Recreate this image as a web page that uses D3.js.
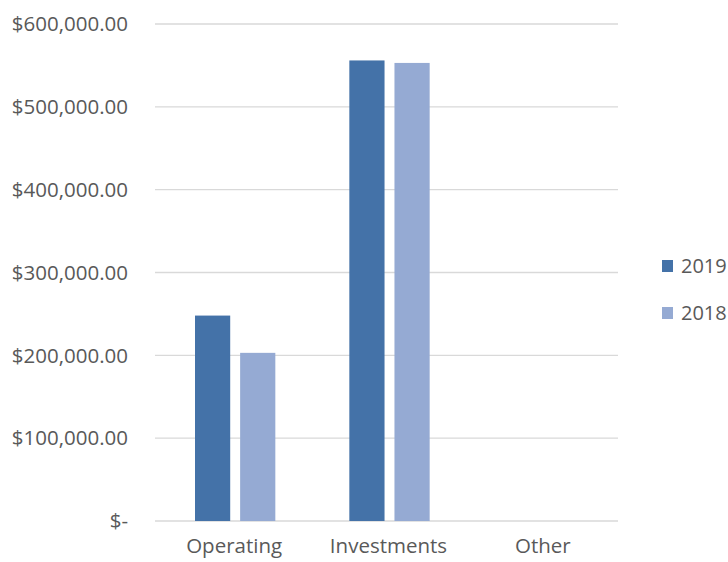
<!DOCTYPE html>
<html>
<head>
<meta charset="utf-8">
<script src="https://cdn.jsdelivr.net/npm/d3@7"></script>
<style>
  body { margin: 0; background: #fff; }
  svg text { font-family: "Open Sans", sans-serif; fill: #595959; }
</style>
</head>
<body>
<svg id="chart" width="728" height="562"></svg>
<script>
// data
const categories = ["Operating", "Investments", "Other"];
const seriesNames = ["2019", "2018"];
const values2019 = [248000, 556000, 0];
const values2018 = [203000, 553000, 0];
const yTicks = [0, 100000, 200000, 300000, 400000, 500000, 600000];

const colors = { "2019": "#4472a8", "2018": "#95aad3" };

const svg = d3.select("#chart");
const margin = { top: 24, left: 155, right: 110, bottom: 41 };
const width = 728 - margin.left - margin.right;
const height = 562 - margin.top - margin.bottom;

const g = svg.append("g")
    .attr("transform", `translate(${margin.left},${margin.top})`);

const x0 = d3.scaleBand().domain(categories).range([0, width]);
const x1 = d3.scaleBand().domain(seriesNames)
    .range([40, x0.bandwidth() - 34])
    .paddingInner(0.22);
const y = d3.scaleLinear().domain([0, 600000]).range([height, 0]);

// gridlines
g.selectAll(".grid")
    .data(yTicks)
    .join("line")
    .attr("x1", 0)
    .attr("x2", width)
    .attr("y1", d => y(d))
    .attr("y2", d => y(d))
    .attr("stroke", "#d9d9d9")
    .attr("stroke-width", 1.3);

// y labels
const fmt = d => d === 0 ? "$-" : "$" + d3.format(",.2f")(d);
g.selectAll(".ylab")
    .data(yTicks)
    .join("text")
    .attr("x", -27)
    .attr("y", d => y(d))
    .attr("dy", "0.35em")
    .attr("text-anchor", "end")
    .style("font-size", "20.5px")
    .text(fmt);

// bars
const rows = categories.map((c, i) => ({
    cat: c,
    vals: [{ key: "2019", v: values2019[i] }, { key: "2018", v: values2018[i] }]
}));

const groups = g.selectAll(".cat")
    .data(rows)
    .join("g")
    .attr("transform", d => `translate(${x0(d.cat)},0)`);

groups.selectAll("rect")
    .data(d => d.vals.filter(v => v.v > 0))
    .join("rect")
    .attr("x", d => x1(d.key))
    .attr("width", x1.bandwidth())
    .attr("y", d => y(d.v))
    .attr("height", d => height - y(d.v))
    .attr("fill", d => colors[d.key]);

// category labels
g.selectAll(".xlab")
    .data(categories)
    .join("text")
    .attr("x", d => x0(d) + x0.bandwidth() / 2 + 2)
    .attr("y", height + 32)
    .attr("text-anchor", "middle")
    .style("font-size", "20.5px")
    .text(d => d);

// legend
const legend = svg.append("g").attr("transform", "translate(662,260)");
seriesNames.forEach((s, i) => {
    legend.append("rect")
        .attr("x", 0)
        .attr("y", i * 47)
        .attr("width", 11)
        .attr("height", 12)
        .attr("fill", colors[s]);
    legend.append("text")
        .attr("x", 19)
        .attr("y", i * 47 + 6)
        .attr("dy", "0.35em")
        .style("font-size", "20px")
        .text(s);
});
</script>
</body>
</html>
